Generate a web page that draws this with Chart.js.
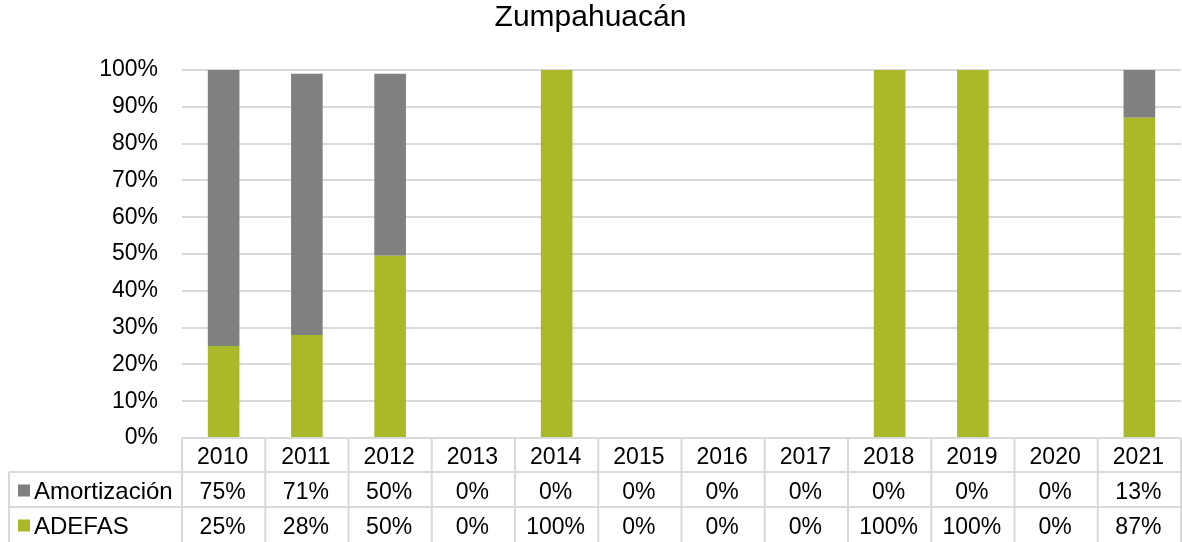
<!DOCTYPE html>
<html>
<head>
<meta charset="utf-8">
<script src="https://cdn.jsdelivr.net/npm/chart.js@4.4.1/dist/chart.umd.min.js"></script>
<style>
  body { margin: 0; background: #fff; }
</style>
</head>
<body>
<canvas id="chart" width="1182" height="542"></canvas>
<script>
// years on the x axis / table header
const years = ['2010', '2011', '2012', '2013', '2014', '2015', '2016', '2017', '2018', '2019', '2020', '2021'];
// share of each component, in percent
const amortizacion = [75, 71, 49.5, 0, 0, 0, 0, 0, 0, 0, 0, 13];
const adefas = [25, 28, 49.5, 0, 100, 0, 0, 0, 100, 100, 0, 87];
const yTicks = [0, 10, 20, 30, 40, 50, 60, 70, 80, 90, 100];

const gray = '#808080';
const green = '#a9b92a';
const lineColor = '#d9d9d9';
const font = 'Liberation Sans, Arial, sans-serif';

// data table drawn under the plot, lined up with the x scale
const tablePlugin = {
  id: 'dataTable',
  afterDraw(chart) {
    const ctx = chart.ctx;
    const x = chart.scales.x;
    const area = chart.chartArea;
    const colW = x.getPixelForValue(1) - x.getPixelForValue(0);
    const left = x.getPixelForValue(0) - colW / 2;
    const right = left + colW * years.length;
    const top = area.bottom;
    const rows = [top, top + 34, top + 69, top + 104];
    const outer = 9;

    ctx.save();
    ctx.strokeStyle = lineColor;
    ctx.lineWidth = 2;
    ctx.beginPath();
    for (let i = 0; i <= years.length; i++) {
      const px = left + i * colW;
      ctx.moveTo(px, top);
      ctx.lineTo(px, rows[3]);
    }
    ctx.moveTo(outer, rows[1]);
    ctx.lineTo(outer, rows[3]);
    ctx.moveTo(outer, rows[1]);
    ctx.lineTo(right, rows[1]);
    ctx.moveTo(outer, rows[2]);
    ctx.lineTo(right, rows[2]);
    ctx.stroke();

    ctx.fillStyle = '#000';
    ctx.font = '23px ' + font;
    ctx.textAlign = 'center';
    ctx.textBaseline = 'middle';
    const series = [amortizacion, adefas];
    years.forEach((yr, i) => {
      const cx = x.getPixelForValue(i) - 1;
      ctx.fillText(yr, cx, (rows[0] + rows[1]) / 2 + 3);
      series.forEach((s, r) => {
        ctx.fillText(Math.round(s[i]) + '%', cx, (rows[r + 1] + rows[r + 2]) / 2 + 3);
      });
    });

    // legend keys in the row headers
    const names = ['Amortización', 'ADEFAS'];
    const colors = [gray, green];
    ctx.textAlign = 'left';
    ctx.font = '24px ' + font;
    names.forEach((n, r) => {
      const cy = (rows[r + 1] + rows[r + 2]) / 2 + 1;
      ctx.fillStyle = colors[r];
      ctx.fillRect(18, cy - 6, 12, 12);
      ctx.fillStyle = '#000';
      ctx.fillText(n, 34, cy + 2);
    });
    ctx.restore();
  }
};

new Chart(document.getElementById('chart'), {
  type: 'bar',
  plugins: [tablePlugin],
  data: {
    labels: years,
    datasets: [
      { label: 'ADEFAS', data: adefas, backgroundColor: green, borderWidth: 0 },
      { label: 'Amortización', data: amortizacion, backgroundColor: gray, borderWidth: 0 }
    ]
  },
  options: {
    responsive: false,
    devicePixelRatio: 1,
    animation: false,
    layout: { padding: { left: 0, right: 1, top: 0, bottom: 104 } },
    datasets: { bar: { barPercentage: 0.38, categoryPercentage: 1 } },
    plugins: {
      legend: { display: false },
      tooltip: { enabled: false },
      title: {
        display: true,
        text: 'Zumpahuacán',
        color: '#000',
        font: { family: font, size: 30, weight: 'normal' },
        padding: { top: 0, bottom: 34 }
      }
    },
    scales: {
      x: { stacked: true, display: false },
      y: {
        stacked: true,
        min: 0,
        max: 100,
        afterBuildTicks: (axis) => { axis.ticks = yTicks.map(v => ({ value: v })); },
        afterFit: (axis) => { axis.width = 182; },
        border: { display: false },
        grid: { color: lineColor, lineWidth: 2, drawTicks: false },
        ticks: {
          padding: 24,
          color: '#000',
          font: { family: font, size: 23 },
          callback: (v) => v + '%'
        }
      }
    }
  }
});
</script>
</body>
</html>
